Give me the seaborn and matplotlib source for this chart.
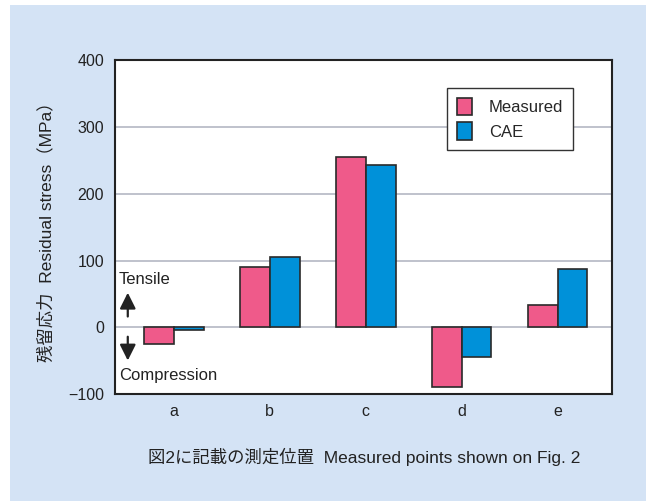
import numpy as np
import pandas as pd
import seaborn as sns
import matplotlib.pyplot as plt
from matplotlib.patches import Patch, Rectangle

# data
points = ["a", "b", "c", "d", "e"]
measured = [-25, 91, 255, -90, 33]
cae = [-4, 105, 243, -44, 88]
series = ["Measured", "CAE"]
colors = ["#ef5a8a", "#0091d9"]
bg = "#d4e3f5"

df = pd.DataFrame({
    "point": points * 2,
    "stress": measured + cae,
    "series": ["Measured"] * len(points) + ["CAE"] * len(points),
})

sns.set_theme(style="white")
plt.rcParams["font.family"] = ["Liberation Sans", "Noto Sans CJK JP", "DejaVu Sans"]
plt.rcParams["axes.unicode_minus"] = True

fig = plt.figure(figsize=(6.52, 5.01), dpi=100)
fig.patch.set_facecolor("white")
# light blue panel behind everything
fig.patches.append(Rectangle((10 / 652, 0), 636 / 652, 496 / 501,
                             transform=fig.transFigure, facecolor=bg,
                             edgecolor="none", zorder=-10))
ax = fig.add_axes([0.1764, 0.2136, 0.763, 0.6657])

sns.barplot(data=df, x="point", y="stress", hue="series", palette=colors,
            width=0.62, gap=0, edgecolor="#2a2a2a", linewidth=1.2,
            saturation=1, legend=False, ax=ax, zorder=3)

ax.set_ylim(-100, 400)
ax.set_xlim(-0.613, 4.571)
ax.set_yticks([-100, 0, 100, 200, 300, 400])
for v in [0, 100, 200, 300]:
    ax.axhline(v, color="#b4b8c4", lw=1.2, zorder=1)

for s in ax.spines.values():
    s.set_color("#222222")
    s.set_linewidth(1.5)
ax.tick_params(axis="both", length=0, labelsize=11.5, colors="#222222")
ax.tick_params(axis="y", pad=8)
ax.tick_params(axis="x", pad=7)

ax.set_xlabel("図2に記載の測定位置  Measured points shown on Fig. 2",
              fontsize=12.5, labelpad=21, color="#222222")
ax.set_ylabel("残留応力  Residual stress（MPa）", fontsize=12.5,
              labelpad=10, color="#222222")

# tensile / compression hints
ax.text(-0.575, 72, "Tensile", fontsize=12, va="center", ha="left", color="#222222")
ax.text(-0.575, -73, "Compression", fontsize=12, va="center", ha="left", color="#222222")
ax.annotate("", xy=(-0.48, 56), xytext=(-0.48, 12),
            arrowprops=dict(arrowstyle="-|>", color="#222222", lw=1.6,
                            mutation_scale=24))
ax.annotate("", xy=(-0.48, -54), xytext=(-0.48, -10),
            arrowprops=dict(arrowstyle="-|>", color="#222222", lw=1.6,
                            mutation_scale=24))

handles = [Patch(facecolor=c, edgecolor="#2a2a2a", lw=1.2) for c in colors]
leg = ax.legend(handles, series, loc="upper right", bbox_to_anchor=(0.921, 0.918),
                borderaxespad=0, fontsize=12, handlelength=0.9, handleheight=1.2,
                handletextpad=1.0, borderpad=0.6, labelspacing=0.45,
                fancybox=False, framealpha=1)
leg.get_frame().set_edgecolor("#333333")
leg.get_frame().set_linewidth(1.0)

fig.savefig("out.png", dpi=100)
